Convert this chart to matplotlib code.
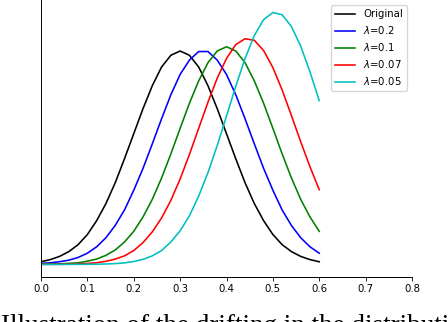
import matplotlib.pyplot as plt

# x grid of the sampled curves
x = [0.0, 0.02, 0.04, 0.06, 0.08, 0.10, 0.12, 0.14, 0.16, 0.18, 0.20,
     0.22, 0.24, 0.26, 0.28, 0.30, 0.32, 0.34, 0.36, 0.38, 0.40,
     0.42, 0.44, 0.46, 0.48, 0.50, 0.52, 0.54, 0.56, 0.58, 0.60]

original = [0.05, 0.09, 0.15, 0.24, 0.37, 0.56, 0.82, 1.14, 1.53, 1.98, 2.45,
            2.92, 3.35, 3.70, 3.92, 4.00, 3.92, 3.70, 3.35, 2.92, 2.45,
            1.98, 1.53, 1.14, 0.82, 0.56, 0.37, 0.24, 0.15, 0.09, 0.05]
lam_02 = [0.02, 0.03, 0.05, 0.08, 0.13, 0.21, 0.33, 0.50, 0.73, 1.02, 1.39,
          1.80, 2.26, 2.73, 3.18, 3.56, 3.83, 3.99, 3.99, 3.83, 3.56,
          3.18, 2.73, 2.26, 1.80, 1.39, 1.02, 0.73, 0.50, 0.33, 0.21]
lam_01 = [0.01, 0.01, 0.01, 0.02, 0.03, 0.06, 0.10, 0.17, 0.27, 0.42, 0.62,
          0.89, 1.22, 1.62, 2.07, 2.55, 3.02, 3.44, 3.78, 4.00, 4.08,
          4.00, 3.78, 3.44, 3.02, 2.55, 2.07, 1.62, 1.22, 0.89, 0.62]
lam_007 = [0.0, 0.001, 0.002, 0.004, 0.009, 0.017, 0.032, 0.058, 0.10, 0.16, 0.26,
           0.41, 0.61, 0.87, 1.20, 1.60, 2.06, 2.55, 3.04, 3.49, 3.86,
           4.12, 4.23, 4.20, 4.01, 3.69, 3.27, 2.79, 2.30, 1.83, 1.40]
lam_005 = [0.0, 0.0, 0.0, 0.0, 0.001, 0.002, 0.004, 0.008, 0.015, 0.029, 0.054,
           0.095, 0.16, 0.26, 0.42, 0.63, 0.91, 1.28, 1.72, 2.23, 2.78,
           3.34, 3.86, 4.29, 4.59, 4.72, 4.68, 4.46, 4.09, 3.61, 3.07]

series = [original, lam_02, lam_01, lam_007, lam_005]
labels = ['Original', r'$\lambda$=0.2', r'$\lambda$=0.1', r'$\lambda$=0.07', r'$\lambda$=0.05']
colors = ['k', 'b', 'g', 'r', 'c']
x_ticks = [0.0, 0.1, 0.2, 0.3, 0.4, 0.5, 0.6, 0.7, 0.8]

fig = plt.figure(figsize=(4.48, 3.22), dpi=100)
ax = fig.add_axes([41 / 448, 1 - 277 / 322, 371 / 448, 277 / 322])

for ys, lab, col in zip(series, labels, colors):
    ax.plot(x, ys, color=col, label=lab, linewidth=1.15)

ax.set_xlim(0.0, 0.8)
ax.set_xticks(x_ticks)
ax.set_xticklabels([f"{t:.1f}" for t in x_ticks])
ax.set_yticks([])
ax.tick_params(axis='x', labelsize=7.3, length=3, width=0.6, pad=2)

for spine in ['top', 'right']:
    ax.spines[spine].set_visible(False)
for spine in ['left', 'bottom']:
    ax.spines[spine].set_linewidth(0.7)

ax.legend(loc='upper right', fontsize=7.3)

# caption of the paper figure, cut by the bottom edge of the screenshot
fig.text(0.002, 1 - 333 / 322, 'Illustration of the drifting in the distribution of',
         family='Liberation Serif', fontsize=19.5, ha='left', va='baseline')

plt.savefig('out.png', dpi=100)
